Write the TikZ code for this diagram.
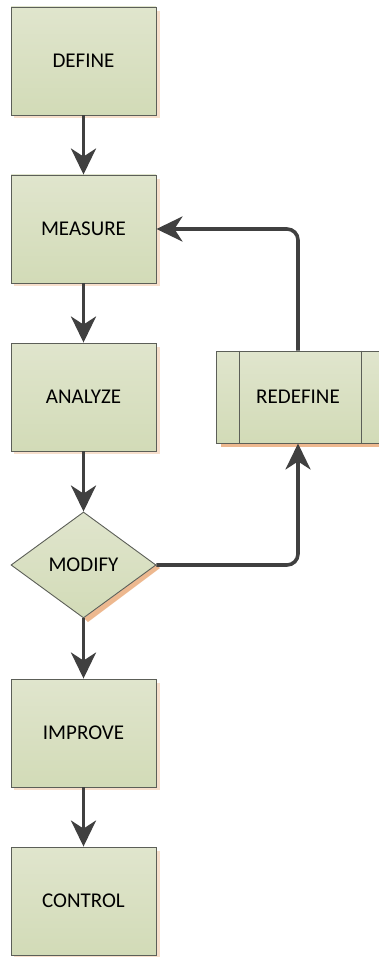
\documentclass[tikz,border=0pt]{standalone}
\usepackage{fontspec}
\setmainfont{Carlito}
\usetikzlibrary{arrows.meta,shapes.geometric,calc}
\definecolor{boxtop}{HTML}{E0E5CD}
\definecolor{boxbot}{HTML}{D2DBB7}
\definecolor{edge}{HTML}{5C5F58}
\definecolor{arrowc}{HTML}{404040}
\definecolor{shadoworange}{HTML}{EDB88F}
\tikzset{
  stepbox/.style={rectangle, draw=edge, line width=0.9pt, top color=boxtop, bottom color=boxbot,
    minimum width=145pt, minimum height=108pt, inner sep=0pt, font=\fontsize{21}{24}\selectfont},
  decide/.style={diamond, draw=edge, line width=0.9pt, top color=boxtop, bottom color=boxbot,
    minimum width=145pt, minimum height=106pt, inner sep=0pt, font=\fontsize{21}{24}\selectfont},
  flow/.style={draw=arrowc, line width=3.6pt, -{Stealth[length=26pt, width=25pt, inset=8pt]}},
  loopflow/.style={flow, rounded corners=11pt},
  softshadow/.style={fill=shadoworange, opacity=0.45},
}
\begin{document}
\begin{tikzpicture}[x=1pt, y=-1pt]
  \useasboundingbox (0,0) rectangle (379,957);
  % faint drop shadows of the step boxes
  \foreach \cy in {61,229,397,733,901}{
    \fill[softshadow] (14,\cy-50) rectangle (160,\cy+57);
  }
  % diamond shadow along the lower right edge
  \fill[shadoworange] (156,565) -- (160,568) -- (88,622) -- (84,618) -- cycle;
  % redefine shadow strip
  \fill[shadoworange] (221,440) rectangle (379,447);

  \node[stepbox] (def) at (83.5,61) {DEFINE};
  \node[stepbox] (mea) at (83.5,229) {MEASURE};
  \node[stepbox] (ana) at (83.5,397) {ANALYZE};
  \node[decide]  (mod) at (83.5,565) {MODIFY};
  \node[stepbox] (imp) at (83.5,733) {IMPROVE};
  \node[stepbox] (con) at (83.5,901) {CONTROL};

  % predefined-process box with its two inner bars
  \node[stepbox, minimum width=164pt, minimum height=92pt] (red) at (298,397) {REDEFINE};
  \draw[edge, line width=0.9pt] ($(red.north west)+(24,0)$) -- ($(red.south west)+(24,0)$);
  \draw[edge, line width=0.9pt] ($(red.north east)+(-19,0)$) -- ($(red.south east)+(-19,0)$);

  \draw[flow] (def) -- (mea);
  \draw[flow] (mea) -- (ana);
  \draw[flow] (ana) -- (mod);
  \draw[flow] (mod) -- (imp);
  \draw[flow] (imp) -- (con);
  \draw[loopflow] (mod.east) -| (red.south);
  \draw[loopflow] (red.north) |- (mea.east);
\end{tikzpicture}
\end{document}
